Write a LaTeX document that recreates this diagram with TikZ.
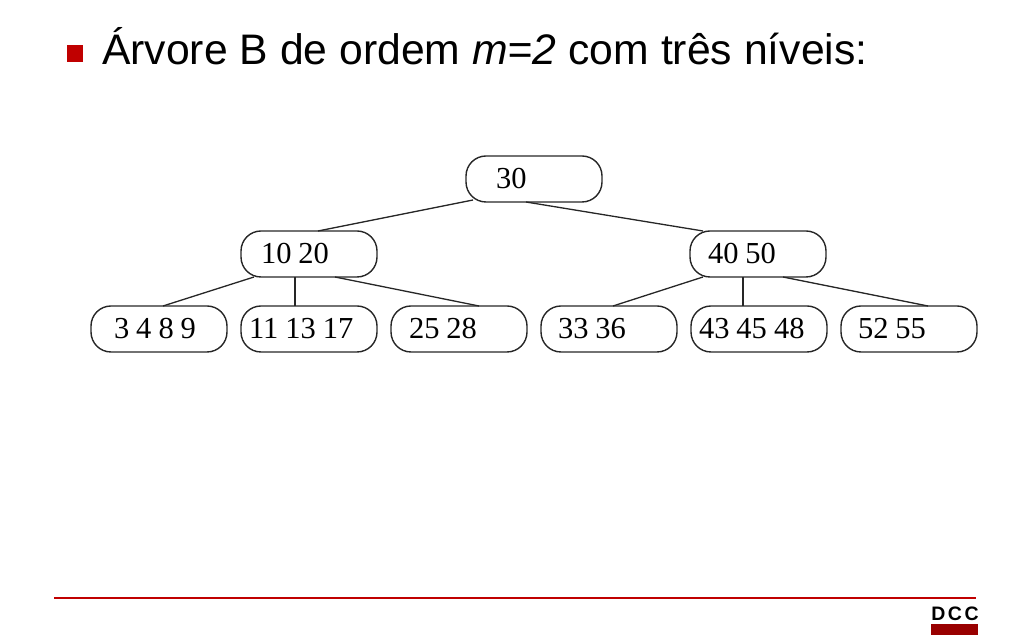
\documentclass[tikz,border=0pt]{standalone}
\usepackage{fontspec}
\setmainfont{Liberation Serif}
\newfontfamily\slidefont{Liberation Sans}
\usepackage{tikz}
\definecolor{dccred}{HTML}{C00000}
\definecolor{dccdark}{HTML}{990000}
\tikzset{
  keybox/.style = {
    draw=black!85,
    line width=1.4pt,
    rounded corners=20pt,
    outer sep=0pt,
    inner xsep=0pt,
    inner ysep=0pt,
    text width=136pt,
    minimum height=46pt,
    align=left,
    font=\fontsize{30.5}{32}\selectfont,
    execute at begin node={\spaceskip=7pt\hspace*{#1}}
  },
  link/.style = {
    draw=black!85,
    line width=1.3pt
  },
}

\begin{document}
\begin{tikzpicture}[x=1pt,y=1pt]
  \useasboundingbox (0,0) rectangle (1033,642);

  % title
  \fill [dccred] (67,580) rectangle (83,597);
  \node [anchor=base west,inner sep=0pt,font=\slidefont\fontsize{42.7}{44}\selectfont] (title) at (102,577)
    {Árvore B de ordem \textit{m=2} com três níveis:};

  % first and second level
  \node [keybox=30pt] (root) at (534,463) {30};
  \node [keybox=20pt] (left) at (309,388) {10 20};
  \node [keybox=18pt] (right) at (758,388) {40 50};

  % leaves
  \node [keybox=23pt] (leaf1) at (159,313) {3 4 8 9};
  \node [keybox=8pt] (leaf2) at (309,313) {11 13 17};
  \node [keybox=18pt] (leaf3) at (459,313) {25 28};
  \node [keybox=17pt] (leaf4) at (609,313) {33 36};
  \node [keybox=8pt] (leaf5) at (759,313) {43 45 48};
  \node [keybox=17pt] (leaf6) at (909,313) {52 55};

  \draw [link] ([shift={(-61,2)}]root.south) -- ([xshift=9]left.north);
  \draw [link] ([xshift=-8]root.south) -- ([xshift=-55]right.north);

  \draw [link] ([xshift=-55]left.south) -- ([xshift=4]leaf1.north);
  \draw [link] ([xshift=-14]left.south) -- ([xshift=-14]leaf2.north);
  \draw [link] ([xshift=26]left.south) -- ([xshift=20]leaf3.north);

  \draw [link] ([xshift=-55]right.south) -- ([xshift=4]leaf4.north);
  \draw [link] ([xshift=-15]right.south) -- ([xshift=-16]leaf5.north);
  \draw [link] ([xshift=25]right.south) -- ([xshift=19]leaf6.north);

  % footer
  \coordinate (rulestart) at (54,44);
  \coordinate (ruleend) at (976,44);
  \draw [dccred,line width=1.4pt] (rulestart) -- (ruleend);
  \node [anchor=base,inner sep=0pt,font=\slidefont\bfseries\fontsize{19.5}{20}\selectfont] (dcc) at (955,21) {D\kern2.5pt C\kern2.5pt C};
  \fill [dccdark] (931,7) rectangle (978,18);
\end{tikzpicture}
\end{document}
